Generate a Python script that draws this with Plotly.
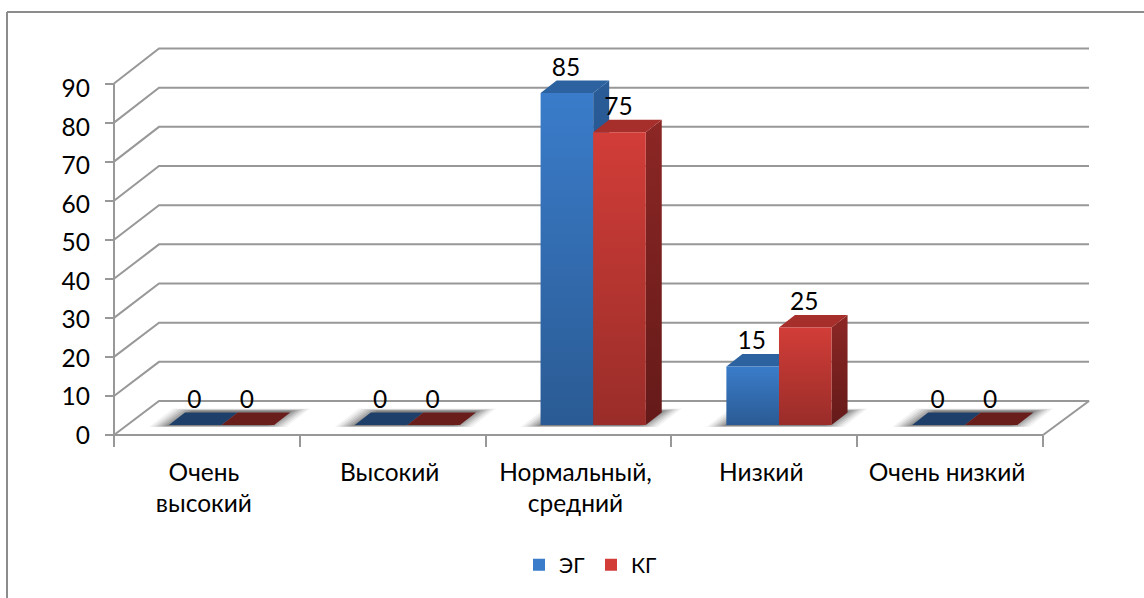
import plotly.graph_objects as go

categories = ["Очень<br>высокий", "Высокий", "Нормальный,<br>средний", "Низкий", "Очень низкий"]
eg_values = [0, 0, 85, 15, 0]
kg_values = [0, 0, 75, 25, 0]
y_ticks = list(range(0, 100, 10))

W, H = 1144, 598
PXX, PXY = 185.8, 3.905        # pixels per category / per value unit
X0, Y0 = 114, 435              # pixel of category-axis origin
BASE = 10 / PXY                # bars stand a little behind the front edge
BAR_W = 0.283
BAR_START = 0.296
DX, DY = 16, 12.5              # bar depth in pixels
GRID = "#989898"
FONT = "Lato, Carlito, 'Noto Sans', sans-serif"
FS = 24.5

def xo(px):
    return px / PXX
def yo(px):
    return px / PXY

xrange_ = [-X0 / PXX, (W - X0) / PXX]
yrange_ = [(Y0 - H) / PXY, Y0 / PXY]

fig = go.Figure()

# walls and floor
n = len(categories)
def line(xs, ys, width=2):
    fig.add_trace(go.Scatter(x=xs, y=ys, mode="lines", line=dict(color=GRID, width=width),
                             showlegend=False, hoverinfo="skip"))

for v in y_ticks:
    back = v + yo(34 + v / 90)
    if v == 0:
        line([0, xo(45), n + xo(46), n, 0], [0, back, back, 0, 0])
    else:
        line([0, xo(45), n + xo(46)], [v, back, back])
line([0, 0], [0, 90])

series = [
    ("ЭГ", eg_values, 0, "#3a7cca",
     ["#1f4b80", "#2a5c98"], "#2b629f", "#1d3f69"),
    ("КГ", kg_values, 1, "#d23d38",
     ["#641a19", "#8c2725"], "#a62e2b", "#6a1e1c"),
]

# soft floor shadows
for c in range(n):
    left = c + BAR_START
    right = left + 2 * BAR_W
    for e, a in [(20, 0.06), (17, 0.08), (14, 0.10), (11, 0.12), (8, 0.14), (5, 0.16), (2, 0.18)]:
        f = yo(1 + e * 0.05)
        b = yo(14 + e * 0.12)
        fig.add_trace(go.Scatter(
            x=[left - xo(e), right + xo(e) - xo(8), right + xo(DX + e), left + xo(DX + 8 - e)],
            y=[BASE - f, BASE - f, BASE + b, BASE + b],
            mode="lines", fill="toself", fillcolor=f"rgba(50,50,50,{a})",
            line=dict(width=0), showlegend=False, hoverinfo="skip"))

# side and top faces
for name, vals, k, front, side, top, top0 in series:
    for c, v in enumerate(vals):
        l = c + BAR_START + k * BAR_W
        r = l + BAR_W
        tv = BASE + v
        if v > 0:
            fig.add_trace(go.Scatter(
                x=[r, r + xo(DX), r + xo(DX), r],
                y=[BASE, BASE + yo(DY), tv + yo(DY), tv],
                mode="lines", fill="toself",
                fillgradient=dict(type="vertical", colorscale=[[0, side[0]], [1, side[1]]]),
                line=dict(width=0), showlegend=False, hoverinfo="skip"))
        fig.add_trace(go.Scatter(
            x=[l, l + xo(DX), r + xo(DX), r],
            y=[tv, tv + yo(DY), tv + yo(DY), tv],
            mode="lines", fill="toself", fillcolor=top if v > 0 else top0,
            line=dict(width=0), showlegend=False, hoverinfo="skip"))

# front faces: real bars on an overlay so they sit above the walls
for name, vals, k, front, side, top, top0 in series:
    fig.add_trace(go.Bar(
        name=name,
        x=[c + BAR_START + k * BAR_W + BAR_W / 2 for c in range(n)],
        y=vals, base=[BASE] * n, width=BAR_W,
        marker=dict(color=front, line=dict(width=0)),
        xaxis="x2", yaxis="y2", hoverinfo="skip"))

# vertical shading of the fronts
for name, vals, k, front, side, top, top0 in series:
    for c, v in enumerate(vals):
        if v > 0:
            l = c + BAR_START + k * BAR_W
            r = l + BAR_W
            fig.add_trace(go.Scatter(
                x=[l, r, r, l], y=[BASE, BASE, BASE + v, BASE + v],
                mode="lines", fill="toself",
                fillgradient=dict(type="vertical",
                                  colorscale=[[0, "rgba(0,0,0,0.27)"], [1, "rgba(0,0,0,0)"]]),
                line=dict(width=0), showlegend=False, hoverinfo="skip",
                xaxis="x2", yaxis="y2"))

# value labels
for name, vals, k, front, side, top, top0 in series:
    fig.add_trace(go.Scatter(
        x=[c + BAR_START + k * BAR_W + BAR_W / 2 - xo(1) for c in range(n)],
        y=[BASE + v + yo(DY + 11) for v in vals],
        text=[str(v) for v in vals], mode="text", textposition="middle center",
        textfont=dict(family=FONT, size=FS, color="#000000"),
        showlegend=False, hoverinfo="skip", xaxis="x2", yaxis="y2"))

fig.update_layout(
    width=W, height=H, margin=dict(l=0, r=0, t=0, b=0),
    paper_bgcolor="white", plot_bgcolor="white",
    barmode="overlay", showlegend=True,
    font=dict(family=FONT, size=FS, color="#000000"),
    legend=dict(orientation="h", x=(529 - 10) / W, xanchor="left", y=0.055, yanchor="middle",
                font=dict(family=FONT, size=21), traceorder="normal",
                entrywidth=27, entrywidthmode="pixels", bgcolor="rgba(0,0,0,0)"),
    xaxis=dict(range=xrange_, anchor="free", position=(H - Y0) / H, showgrid=False, zeroline=False,
               tickmode="array", tickvals=[i + 0.5 - xo(3) for i in range(n)], ticktext=categories,
               ticks="", ticklabelstandoff=20, showline=False,
               minor=dict(tickmode="array", tickvals=list(range(n + 1)), ticks="outside",
                          ticklen=11, tickwidth=2, tickcolor=GRID)),
    yaxis=dict(range=yrange_, anchor="free", position=X0 / W, showgrid=False, zeroline=False,
               tickmode="array", tickvals=[v * 0.986 for v in y_ticks],
               ticktext=[str(v) for v in y_ticks], ticks="", showline=False, ticklabelstandoff=24,
               minor=dict(tickmode="array", tickvals=y_ticks, ticks="outside", ticklen=9,
                          tickwidth=2, tickcolor=GRID)),
    xaxis2=dict(range=xrange_, overlaying="x", visible=False),
    yaxis2=dict(range=yrange_, overlaying="y", visible=False),
    shapes=[dict(type="line", xref="paper", yref="paper", x0=7 / W, x1=7 / W, y0=0, y1=1 - 12 / H,
                 line=dict(color="#8c8c8c", width=2)),
            dict(type="line", xref="paper", yref="paper", x0=7 / W, x1=1, y0=1 - 12 / H, y1=1 - 12 / H,
                 line=dict(color="#8c8c8c", width=2))],
)

fig.write_html("out.html", config={"displayModeBar": False},
               post_script="document.body.style.margin='0';document.documentElement.style.overflow='hidden';")
